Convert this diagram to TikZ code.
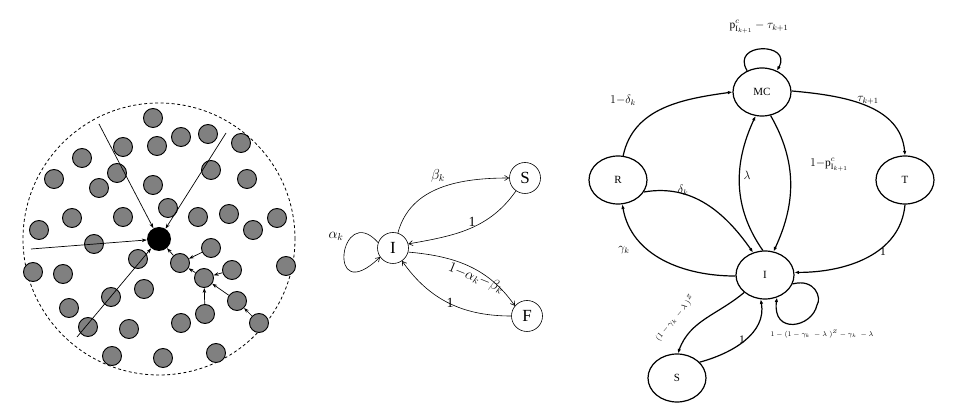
\documentclass[tikz,border=0pt]{standalone}
\usepackage{fontspec}
\setmainfont{Liberation Serif}
\usetikzlibrary{shapes.geometric,arrows.meta}
\definecolor{dotgray}{RGB}{128,128,128}
\begin{document}
\begin{tikzpicture}[x=1pt,y=1pt,
  gdot/.style={circle,draw=black,line width=0.9pt,fill=dotgray,minimum size=19pt,inner sep=0pt},
  larr/.style={line width=0.7pt,-{Stealth[length=5pt,width=3.5pt]}},
  mnode/.style={circle,draw=black,line width=0.6pt,minimum size=31pt,inner sep=0pt,font=\fontsize{17}{17}\selectfont},
  marr/.style={line width=0.6pt,-{Straight Barb[length=4pt,width=5pt]}},
  mlab/.style={font=\fontsize{14}{14}\selectfont,inner sep=1pt},
  rnode/.style={ellipse,draw=black,line width=1.2pt,minimum width=58pt,minimum height=48pt,inner sep=0pt,font=\fontsize{11}{11}\selectfont},
  rarr/.style={line width=1.2pt,-{Latex[length=4.5pt,width=3.5pt]}},
  rlab/.style={font=\fontsize{11.5}{11.5}\selectfont,inner sep=1pt}]
\useasboundingbox (0,0) rectangle (959,-411);
\fill[white] (0,0) rectangle (959,-411);
% ---------------- left panel ----------------
\draw[line width=0.8pt,dash pattern=on 3pt off 2.5pt] (159,-239) circle[radius=136];
\foreach \n/\x/\y in {1/153/118,2/123/147,3/157/146,4/181/137,5/208/134,6/241/143,
  7/82/158,8/54/179,9/117/173,10/99/188,11/153/185,12/211/170,13/247/179,14/168/208,
  15/72/218,16/123/217,17/198/217,18/229/214,19/277/218,20/253/230,21/39/230,22/94/244,
  23/211/248,24/180/263,25/138/259,26/33/272,27/63/274,28/286/266,29/232/270,30/204/278,
  31/144/289,32/111/297,33/69/308,34/237/301,35/205/314,36/181/323,37/88/327,38/129/329,
  39/259/323,40/112/356,41/163/358,42/216/353}
  \node[gdot] (g\n) at (\x,-\y) {};
\node[circle,fill=black,minimum size=24pt,inner sep=0pt] (B) at (159,-239) {};
\coordinate (e1) at (99,-124);
\coordinate (e2) at (226,-133);
\coordinate (e3) at (31,-249);
\coordinate (e4) at (77,-337);
\draw[larr] (e1) -- (B);
\draw[larr] (e2) -- (B);
\draw[larr] (e3) -- (B);
\draw[larr] (e4) -- (B);
\draw[larr] (g24) -- (B);
\draw[larr] (g23) -- (g24);
\draw[larr] (g30) -- (g24);
\draw[larr] (g29) -- (g30);
\draw[larr] (g35) -- (g30);
\draw[larr] (g34) -- (g30);
\draw[larr] (g39) -- (g34);
% ---------------- middle panel ----------------
\node[mnode] (mI) at (393,-248) {I};
\node[mnode] (mS) at (525,-178) {S};
\node[mnode] (mF) at (527,-316) {F};
\draw[marr] (mI.72) to[out=75,in=180] (mS.west);
\draw[marr] (mS.235) to[out=235,in=10] (mI.15);
\draw[marr] (mI.-15) to[out=-5,in=125] (mF.140);
\draw[marr] (mF.west) to[out=180,in=-55] (mI.-55);
\draw[marr] (mI.160) .. controls (340,-200) and (325,-310) .. (mI.215);
\node[mlab] (lb) at (438,-176) {$\beta_k$};
\node[mlab] (l1a) at (472,-222) {1};
\node[mlab,rotate=-22] (lab) at (476,-278) {$1{-}\alpha_k{-}\beta_k$};
\node[mlab] (l1b) at (450,-303) {1};
\node[mlab] (la) at (336,-236) {$\alpha_k$};
% ---------------- right panel ----------------
\node[rnode] (MC) at (762,-92) {MC};
\node[rnode] (R) at (618,-180) {R};
\node[rnode] (T) at (905,-180) {T};
\node[rnode] (rI) at (765,-275) {I};
\node[rnode] (rS) at (677,-378) {S};
\draw[rarr] (MC.125) .. controls (730,-42) and (793,-42) .. (MC.55);
\draw[rarr] (R.78) to[out=78,in=188] (MC.180);
\draw[rarr] (MC.2) to[out=-5,in=95] (T.90);
\draw[rarr] (rI.95) to[out=125,in=-115] (MC.-105);
\draw[rarr] (MC.-70) to[out=-60,in=65] (rI.70);
\draw[rarr] (R.-25) to[out=10,in=125] (rI.118);
\draw[rarr] (rI.182) to[out=180,in=-80] (R.-80);
\draw[rarr] (T.-90) to[out=-95,in=0] (rI.5);
\draw[rarr] (rI.-18) .. controls (815,-278) and (822,-298) .. (817,-305)
  .. controls (812,-328) and (772,-335) .. (rI.-62);
\draw[rarr] (rI.-140) to[out=220,in=70] (rS.88);
\draw[rarr] (rS.35) to[out=15,in=-80] (rI.-100);
\node[rlab] (lp) at (759,-27) {$\mathrm{p}^{c}_{\mathrm{I}_{k+1}}-\tau_{k+1}$};
\node[rlab] (ld) at (623,-100) {$1{-}\delta_k$};
\node[rlab] (lt) at (868,-100) {$\tau_{k+1}$};
\node[rlab] (ll) at (747,-175) {$\lambda$};
\node[rlab] (lq) at (829,-165) {$1{-}\mathrm{p}^{c}_{\mathrm{I}_{k+1}}$};
\node[rlab] (ldk) at (683,-190) {$\delta_k$};
\node[rlab] (lg) at (624,-250) {$\gamma_k$};
\node[rlab] (l1c) at (883,-252) {1};
\node[rlab,font=\fontsize{7.5}{7.5}\selectfont] (lloop) at (822,-334) {$1-(1-\gamma_k\;-\lambda\;)^{Z}-\gamma_k\;-\lambda$};
\node[rlab,rotate=50,font=\fontsize{8.5}{8.5}\selectfont] (lz) at (675,-318) {$(1-\gamma_k\;-\lambda\;)^{Z}$};
\node[rlab] (l1d) at (742,-340) {1};
\end{tikzpicture}
\end{document}
